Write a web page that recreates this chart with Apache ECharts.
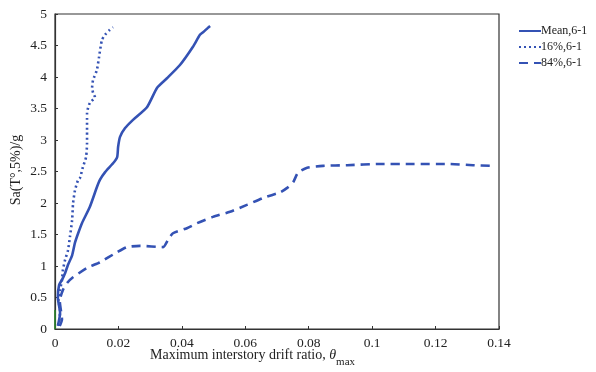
<!DOCTYPE html>
<html><head><meta charset="utf-8">
<script src="https://cdn.jsdelivr.net/npm/echarts@6/dist/echarts.min.js"></script>
<style>html,body{margin:0;padding:0;background:#fff}#c{width:596px;height:372px}</style>
</head><body><div id="c"></div>
<script>
const xTicks = [0, 0.02, 0.04, 0.06, 0.08, 0.1, 0.12, 0.14];
const yTicks = [0, 0.5, 1, 1.5, 2, 2.5, 3, 3.5, 4, 4.5, 5];
const seriesNames = ['Mean,6-1', '16%,6-1', '84%,6-1'];

const meanX = [0.0009,0.0016,0.0009,0.0013,0.0022,0.0032,0.0041,0.0054,0.0063,0.0073,0.0085,0.011,0.0132,0.0142,0.0158,0.0183,0.0196,0.0199,0.0205,0.0221,0.0246,0.029,0.0322,0.0353,0.0394,0.0435,0.0457,0.0467,0.0482,0.0489];
const meanY = [0.05,0.25,0.5,0.7,0.78,0.89,1.02,1.17,1.37,1.52,1.68,1.94,2.25,2.37,2.49,2.63,2.73,2.89,3.05,3.19,3.32,3.52,3.83,3.98,4.19,4.48,4.67,4.71,4.78,4.81];

const p16X = [0.0012,0.0016,0.0011,0.0016,0.0022,0.0025,0.0032,0.0041,0.0047,0.0054,0.0057,0.0063,0.0073,0.0079,0.0088,0.0098,0.0101,0.0101,0.0101,0.0101,0.011,0.0126,0.012,0.0117,0.012,0.0132,0.0139,0.0148,0.0158,0.0173,0.0183];
const p16Y = [0.05,0.3,0.45,0.62,0.78,0.94,1.1,1.25,1.46,1.73,2.0,2.2,2.37,2.4,2.57,2.73,2.95,3.13,3.32,3.43,3.59,3.68,3.75,3.83,3.95,4.11,4.32,4.59,4.67,4.75,4.79];

const p84X = [0.0015,0.0022,0.0015,0.0025,0.0038,0.0054,0.0101,0.0142,0.0196,0.0227,0.0268,0.0341,0.0356,0.0372,0.0416,0.0448,0.0498,0.0552,0.0605,0.0656,0.071,0.0732,0.0751,0.0766,0.0795,0.0845,0.0921,0.1025,0.1129,0.1236,0.1318,0.1372];
const p84Y = [0.05,0.15,0.45,0.62,0.73,0.81,0.97,1.06,1.22,1.3,1.32,1.3,1.41,1.52,1.6,1.68,1.78,1.86,1.97,2.08,2.17,2.24,2.33,2.48,2.56,2.59,2.6,2.62,2.62,2.62,2.6,2.59];

const greenX = [0, 0];
const greenY = [0, 0.3];

const zip = (a, b) => a.map((v, i) => [v, b[i]]);
const blue = '#3452b4';
const font = 'Liberation Serif';

const chart = echarts.init(document.getElementById('c'), null, {renderer: 'canvas'});
chart.setOption({
  animation: false,
  backgroundColor: '#fff',
  grid: {left: 55, right: 97, top: 14, bottom: 43, show: true, borderColor: '#333', borderWidth: 1.2},
  legend: {
    orient: 'vertical', left: 513, top: 20, itemGap: 4, itemWidth: 22, itemHeight: 10,
    data: seriesNames,
    itemStyle: {opacity: 0},
    textStyle: {fontFamily: font, fontSize: 12, color: '#222', padding: [0,0,0,-5]}
  },
  xAxis: {
    type: 'value', min: 0, max: 0.14, interval: 0.02,
    axisLine: {onZero: false, lineStyle: {color: '#333', width: 1.2}},
    axisTick: {inside: true, length: 3, lineStyle: {color: '#333'}},
    splitLine: {show: false},
    axisLabel: {fontFamily: font, fontSize: 13.5, color: '#222', margin: 7,
      formatter: v => xTicks.includes(Math.round(v*100)/100) ? String(Math.round(v*100)/100) : ''}
  },
  yAxis: {
    type: 'value', min: 0, max: 5, interval: 0.5,
    axisLine: {lineStyle: {color: '#333', width: 1.2}},
    axisTick: {inside: true, length: 3, lineStyle: {color: '#333'}},
    splitLine: {show: false},
    axisLabel: {fontFamily: font, fontSize: 13.5, color: '#222', margin: 8,
      formatter: v => String(v)}
  },
  graphic: [
    {type: 'text', left: 150, top: 348, style: {
      text: '{a|Maximum interstory drift ratio, }{b|θ}{s|max}',
      rich: {
        a: {fontFamily: font, fontSize: 14, fill: '#222'},
        b: {fontFamily: font, fontSize: 14, fontStyle: 'italic', fill: '#222'},
        s: {fontFamily: font, fontSize: 11, fill: '#222', padding: [14,0,0,0]}
      }}},
    {type: 'text', x: 16, y: 170, rotation: Math.PI/2, style: {
      text: 'Sa(T°,5%)/g', fontFamily: font, fontSize: 14, fill: '#222',
      align: 'center', verticalAlign: 'middle'}}
  ],
  series: [
    {name: seriesNames[0], type: 'line', data: zip(meanX, meanY), symbol: 'none', smooth: 0.2,
      lineStyle: {color: blue, width: 2.6}, itemStyle: {color: blue}},
    {name: seriesNames[1], type: 'line', data: zip(p16X, p16Y), symbol: 'none', smooth: 0.2,
      lineStyle: {color: blue, width: 2.6, type: [2, 3]}, itemStyle: {color: blue}},
    {name: seriesNames[2], type: 'line', data: zip(p84X, p84Y), symbol: 'none', smooth: 0.2,
      lineStyle: {color: blue, width: 2.6, type: [9, 6]}, itemStyle: {color: blue}},
    {name: 'g', type: 'line', data: zip(greenX, greenY), symbol: 'none',
      lineStyle: {color: '#2a8a2a', width: 1.5}, silent: true}
  ]
});
</script></body></html>
